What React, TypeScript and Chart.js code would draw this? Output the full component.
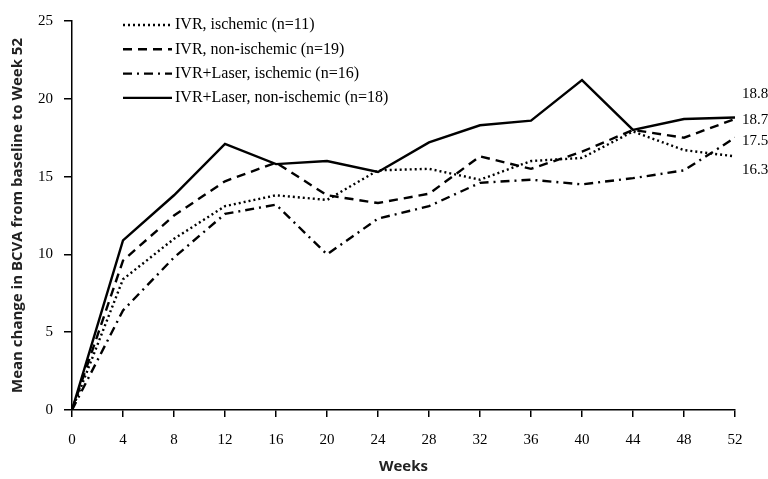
import React, { useEffect, useRef } from "react";
import { Chart, registerables } from "chart.js";

Chart.register(...registerables);

const weeks = [0, 4, 8, 12, 16, 20, 24, 28, 32, 36, 40, 44, 48, 52];
const seriesNames = [
  "IVR, ischemic (n=11)",
  "IVR, non-ischemic (n=19)",
  "IVR+Laser, ischemic (n=16)",
  "IVR+Laser, non-ischemic (n=18)",
];
const ivrIschemic = [0, 8.4, 11.0, 13.1, 13.8, 13.5, 15.4, 15.5, 14.8, 16.0, 16.2, 17.9, 16.7, 16.3];
const ivrNonIschemic = [0, 9.6, 12.5, 14.7, 15.9, 13.8, 13.3, 13.9, 16.3, 15.5, 16.6, 18.0, 17.5, 18.7];
const laserIschemic = [0, 6.4, 9.8, 12.6, 13.2, 10.0, 12.3, 13.1, 14.6, 14.8, 14.5, 14.9, 15.4, 17.5];
const laserNonIschemic = [0, 10.9, 13.8, 17.1, 15.8, 16.0, 15.3, 17.2, 18.3, 18.6, 21.2, 18.0, 18.7, 18.8];
const endLabels = ["16.3", "18.7", "17.5", "18.8"];
const yTicks = [0, 5, 10, 15, 20, 25];

const dashes: number[][] = [[2, 3], [9, 6], [9, 5, 2, 5], []];
const labelOffsets = [14, 1, 3, -23];

const serif = "'Liberation Serif', 'Times New Roman', serif";

export default function App() {
  const ref = useRef<HTMLCanvasElement | null>(null);
  useEffect(() => {
    document.body.style.margin = "0";
    const all = [ivrIschemic, ivrNonIschemic, laserIschemic, laserNonIschemic];
    const overlay = {
      id: "overlay",
      afterDraw(chart: any) {
        const ctx = chart.ctx;
        const ys = chart.scales.y;
        const xs = chart.scales.x;
        ctx.save();
        // legend
        ctx.font = "16px " + serif;
        ctx.fillStyle = "#000";
        ctx.textBaseline = "middle";
        ctx.textAlign = "left";
        seriesNames.forEach((name, i) => {
          const y = 25 + i * 24.3;
          ctx.beginPath();
          ctx.lineWidth = 2.4;
          ctx.strokeStyle = "#000";
          ctx.setLineDash(dashes[i]);
          ctx.moveTo(123, y);
          ctx.lineTo(172, y);
          ctx.stroke();
          ctx.setLineDash([]);
          ctx.fillText(name, 175, y);
        });
        // end labels
        ctx.font = "15px " + serif;
        all.forEach((arr, i) => {
          const v = arr[arr.length - 1];
          const py = ys.getPixelForValue(v) + labelOffsets[i];
          ctx.fillText(endLabels[i], xs.right + 7, py);
        });
        ctx.restore();
      },
    };
    const chart = new Chart(ref.current as HTMLCanvasElement, {
      type: "line",
      data: {
        datasets: all.map((arr, i) => ({
          label: seriesNames[i],
          data: arr.map((v, j) => ({ x: weeks[j], y: v })),
          borderColor: "#000",
          borderWidth: 2.4,
          borderDash: dashes[i],
          pointRadius: 0,
          tension: 0,
          fill: false,
        })),
      },
      options: {
        responsive: false,
        animation: false,
        layout: { padding: { left: 0, top: 21, right: 33, bottom: 0 } },
        plugins: { legend: { display: false }, tooltip: { enabled: false } },
        scales: {
          x: {
            type: "linear",
            min: 0,
            max: 52,
            afterFit: (s: any) => {
              s.height = 69;
            },
            afterBuildTicks: (s: any) => {
              s.ticks = weeks.map((w) => ({ value: w }));
            },
            ticks: {
              color: "#000",
              padding: 14,
              font: { family: serif, size: 15 },
              maxRotation: 0,
              autoSkip: false,
            },
            grid: { display: true, drawOnChartArea: false, drawTicks: true, tickLength: 7, color: "#000", lineWidth: 1.5 },
            border: { display: true, color: "#000", width: 1.5 },
            title: {
              display: true,
              text: "Weeks",
              color: "#222",
              font: { family: "'Open Sans', sans-serif", size: 15, weight: "bold" },
              padding: { top: 0, bottom: 3 },
            },
          },
          y: {
            min: 0,
            max: 25,
            afterFit: (s: any) => {
              s.width = 72;
            },
            afterBuildTicks: (s: any) => {
              s.ticks = yTicks.map((v) => ({ value: v }));
            },
            ticks: {
              color: "#000",
              padding: 11,
              font: { family: serif, size: 15 },
            },
            grid: { display: true, drawOnChartArea: false, drawTicks: true, tickLength: 8, color: "#000", lineWidth: 1.5 },
            border: { display: true, color: "#000", width: 1.5 },
            title: {
              display: true,
              text: "Mean change in BCVA from baseline to Week 52",
              color: "#222",
              font: { family: "'Open Sans', sans-serif", size: 15, weight: "bold" },
              padding: { top: 9, bottom: 0 },
            },
          },
        },
      },
      plugins: [overlay],
    } as any);
    return () => chart.destroy();
  }, []);
  return (
    <div style={{ position: "fixed", left: 0, top: 0, width: 768, height: 479, background: "#fff" }}>
      <canvas ref={ref} width={768} height={479} />
    </div>
  );
}
